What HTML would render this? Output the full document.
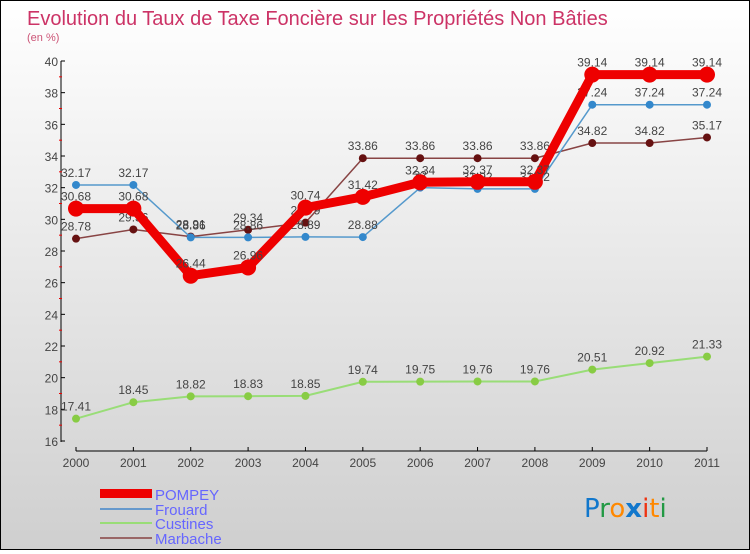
<!DOCTYPE html>
<html><head><meta charset="utf-8">
<style>
html,body{margin:0;padding:0;}
body{width:750px;height:550px;overflow:hidden;font-family:"Liberation Sans",sans-serif;}
#wrap{position:relative;width:748px;height:548px;border:1px solid #000;background:linear-gradient(#ffffff,#cfcfcf);}
</style></head>
<body>
<div id="wrap">
<svg id="chart" width="748" height="548" xmlns="http://www.w3.org/2000/svg">
<text x="26" y="24" font-size="20" fill="#cc3366">Evolution du Taux de Taxe Foncière sur les Propriétés Non Bâties</text>
<text x="26" y="40" font-size="11" fill="#cc5577">(en %)</text>
<g id="axes"></g>
<g id="series"></g>
<g id="legend">
<rect x="99" y="488" width="52" height="9" fill="#ee0000"/>
<text x="154" y="499" font-size="15" fill="#6666ff">POMPEY</text>
<rect x="99" y="507" width="52" height="2" fill="#6699cc"/>
<text x="154" y="514" font-size="15" fill="#6666ff">Frouard</text>
<rect x="99" y="521" width="52" height="2" fill="#99dd77"/>
<text x="154" y="528" font-size="15" fill="#6666ff">Custines</text>
<rect x="99" y="536" width="52" height="2" fill="#996666"/>
<text x="154" y="543" font-size="15" fill="#6666ff">Marbache</text>
</g>
<g font-size="26" font-family="'DejaVu Sans',sans-serif">
<text x="583" y="516"><tspan fill="#1177cc">P</tspan><tspan fill="#229944">r</tspan><tspan fill="#ff8800">o</tspan><tspan fill="#1177cc" font-weight="bold">x</tspan><tspan fill="#ee3311">i</tspan><tspan fill="#ff8800">t</tspan><tspan fill="#229944">i</tspan></text>
</g>
</svg>
</div>
<script>
const years = [2000,2001,2002,2003,2004,2005,2006,2007,2008,2009,2010,2011];
const yTicks = [16,18,20,22,24,26,28,30,32,34,36,38,40];
const pompey = [30.68,30.68,26.44,26.96,30.74,31.42,32.34,32.37,32.37,39.14,39.14,39.14];
const frouard = [32.17,32.17,28.86,28.86,28.89,28.88,32,31.92,31.92,37.24,37.24,37.24];
const custines = [17.41,18.45,18.82,18.83,18.85,19.74,19.75,19.76,19.76,20.51,20.92,21.33];
const marbache = [28.78,29.36,28.91,29.34,29.79,33.86,33.86,33.86,33.86,34.82,34.82,35.17];

const NS="http://www.w3.org/2000/svg";
const X0=75,X1=706,Y40=60,Y16=440;
function xs(i){return X0+(X1-X0)*i/(years.length-1);}
function ys(v){return Y16+(v-16)*(Y40-Y16)/(40-16);}
function mk(tag,attrs,parent){const e=document.createElementNS(NS,tag);for(const k in attrs)e.setAttribute(k,attrs[k]);parent.appendChild(e);return e;}
const axes=document.getElementById('axes'), ser=document.getElementById('series');

const yl=mk('line',{x1:60,y1:ys(40),x2:60,y2:ys(16)+1,stroke:'#000','stroke-width':1},axes);


yTicks.forEach(t=>{
  const y=ys(t);
  mk('line',{x1:60,y1:y,x2:64,y2:y,stroke:'#000'},axes);
  if(t<40){mk('line',{x1:58,y1:ys(t+1),x2:61,y2:ys(t+1),stroke:'#ee0000'},axes);}
  const tx=mk('text',{x:57,y:y+5,'font-size':12,fill:'#444','text-anchor':'end'},axes);
  tx.textContent=t;
  
  
});
const xl=mk('line',{x1:X0,y1:450,x2:X1,y2:450,stroke:'#000'},axes);


years.forEach((yr,i)=>{
  const x=xs(i);
  mk('line',{x1:x,y1:446,x2:x,y2:450,stroke:'#000'},axes);
  const tx=mk('text',{x:x,y:466,'font-size':12,fill:'#444','text-anchor':'middle'},axes);
  tx.textContent=yr;
  
  
});

function drawSeries(vals,name,color,lw,r,dot){
  const g=mk('g',{},ser);
  
  
  const pts=vals.map((v,i)=>xs(i)+','+ys(v)).join(' ');
  const pl=mk('polyline',{points:pts,fill:'none',stroke:color,'stroke-width':lw,'stroke-linejoin':'round'},g);
  
  
  vals.forEach((v,i)=>{
    const c=mk('circle',{cx:xs(i),cy:ys(v),r:r,fill:dot,stroke:'none'},g);
    
    
    const t=mk('text',{x:xs(i),y:ys(v)-8,'font-size':12,fill:'#444','text-anchor':'middle'},g);
    t.textContent=v;
    
    
  });
}
drawSeries(custines,'custines','#99dd77',2,4,'#88cc44');
drawSeries(marbache,'marbache','#884444',1.5,4,'#661111');
drawSeries(frouard,'frouard','#5599cc',1.5,4,'#3388cc');
drawSeries(pompey,'pompey','#ee0000',9,8,'#ee0000');
</script>
</body></html>
